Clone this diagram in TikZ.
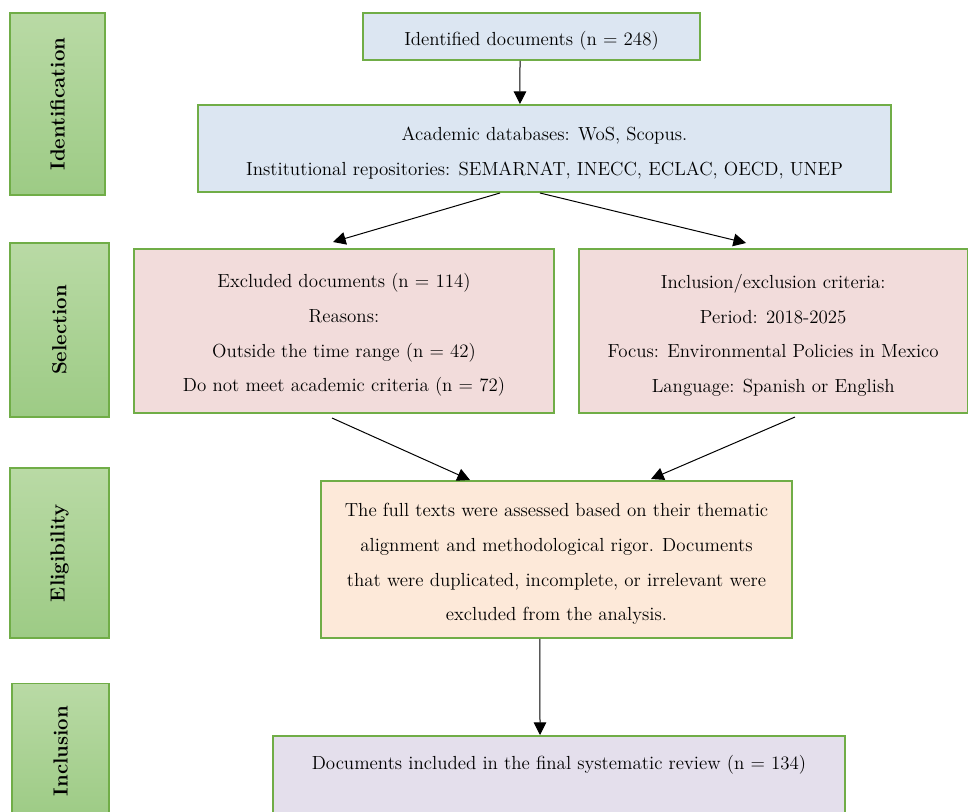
\documentclass[tikz,border=0pt]{standalone}
\usetikzlibrary{arrows.meta}
\definecolor{gborder}{HTML}{70AD47}
\definecolor{gtop}{HTML}{B9DAA5}
\definecolor{gbot}{HTML}{9DCB85}
\definecolor{cblue}{HTML}{DCE6F2}
\definecolor{cpink}{HTML}{F2DCDB}
\definecolor{cpeach}{HTML}{FDE9D9}
\definecolor{clav}{HTML}{E4DFEC}
\newcommand{\mytstrut}{\rule{0pt}{17pt}}
\tikzset{
  box/.style={draw=gborder, line width=1.5pt, rectangle, inner sep=0pt, align=center,
    font=\fontsize{14.2}{26}\selectfont},
  sidebox/.style={draw=gborder, line width=0.9pt, rectangle, inner sep=0pt,
    top color=gtop, bottom color=gbot},
  sidetext/.style={rotate=90, font=\fontsize{15.3}{17}\selectfont\bfseries, inner sep=0pt},
  arr/.style={-{Triangle[length=9.5pt,width=9.5pt]}, line width=0.75pt, black}
}
\begin{document}
\begin{tikzpicture}[x=0.75pt,y=-0.75pt]
\useasboundingbox (0,0) rectangle (968,812);
\clip (0,0) rectangle (968,812);
% side labels
\node[sidebox, minimum width=71.25pt, minimum height=136.5pt] (s1) at (57.5,104) {};
\node[sidetext] (t1) at (s1.center) {Identification};
\node[sidebox, minimum width=74.25pt, minimum height=130.5pt] (s2) at (59.5,330) {};
\node[sidetext] (t2) at (s2.center) {Selection};
\node[sidebox, minimum width=74.25pt, minimum height=127.5pt] (s3) at (59.5,553) {};
\node[sidetext] (t3) at (s3.center) {Eligibility};
\node[sidebox, minimum width=72.75pt, minimum height=101pt] (s4) at (60.5,751) {};
\node[sidetext] (t4) at (60.5,751) {Inclusion};
% main boxes
\node[box, fill=cblue, minimum width=252.75pt, minimum height=35.25pt] (b1) at (531.5,36.5)
  {\mytstrut Identified documents (n = 248)};
\node[box, fill=cblue, minimum width=519.75pt, minimum height=65.25pt] (b2) at (544.5,148.5)
  {\mytstrut Academic databases: WoS, Scopus.\\Institutional repositories: SEMARNAT, INECC, ECLAC, OECD, UNEP};
\node[box, fill=cpink, minimum width=315pt, minimum height=123pt] (b3) at (344,331)
  {\mytstrut Excluded documents (n = 114)\\Reasons:\\Outside the time range (n = 42)\\Do not meet academic criteria (n = 72)};
\node[box, fill=cpink, minimum width=291.4pt, minimum height=123pt] (b4) at (773.25,331)
  {\mytstrut Inclusion/exclusion criteria:\\Period: 2018-2025\\Focus: Environmental Policies in Mexico\\Language: Spanish or English};
\node[box, fill=cpeach, minimum width=353.25pt, minimum height=117.75pt] (b5) at (556.5,559.5)
  {\mytstrut The full texts were assessed based on their thematic\\alignment and methodological rigor. Documents\\that were duplicated, incomplete, or irrelevant were\\excluded from the analysis.};
\node[box, fill=clav, minimum width=429pt, minimum height=70.5pt] (b6) at (559,783) {};
\node[font=\fontsize{14.2}{16}\selectfont, inner sep=0pt] (t6) at (559,765)
  {Documents included in the final systematic review (n = 134)};
% connectors
\draw[arr] ([xshift=-8.625pt]b1.south) -- ([xshift=-18.4pt]b2.north);
\draw[arr] ([xshift=-33.4pt]b2.south) -- ([xshift=-8.25pt,yshift=4.5pt]b3.north);
\draw[arr] ([xshift=-3.4pt]b2.south) -- ([xshift=-20.4pt,yshift=3.75pt]b4.north);
\draw[arr] ([xshift=-9pt,yshift=-3pt]b3.south) -- ([xshift=-64.9pt]b5.north);
\draw[arr] ([xshift=16.3pt,yshift=-2.25pt]b4.south) -- ([xshift=70.9pt,yshift=0.75pt]b5.north);
\draw[arr] ([xshift=-12.4pt]b5.south) -- ([xshift=-14.25pt]b6.north);
\end{tikzpicture}
\end{document}
